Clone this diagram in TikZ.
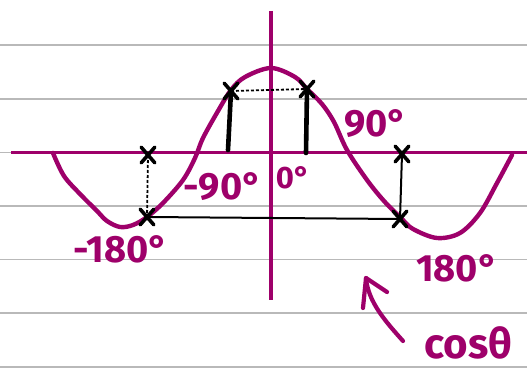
\documentclass[tikz,border=0pt]{standalone}
\usepackage{fontspec}
\setmainfont{Fira Sans}
\usetikzlibrary{shapes.misc}
\definecolor{pinkink}{RGB}{158,0,106}
\definecolor{ruleg}{RGB}{185,185,185}
\tikzset{
  ruleline/.style={draw=ruleg, line width=1.5pt},
  axisline/.style={draw=pinkink, line width=3.6pt},
  curveline/.style={draw=pinkink, line width=4.4pt, line cap=round, line join=round},
  xmark/.style={draw=black, cross out, minimum width=10pt, minimum height=12pt, inner sep=0pt, line width=3.6pt, line cap=round},
  thickbar/.style={draw=black, line width=4.6pt, line cap=round},
  dashline/.style={draw=black, line width=1.8pt, dash pattern=on 3pt off 2pt},
  thinline/.style={draw=black, line width=2pt},
  lbl/.style={text=pinkink, inner sep=0pt, font=\fontsize{38}{38}\selectfont\bfseries},
}
\begin{document}
\begin{tikzpicture}[x=1pt,y=-1pt]
\useasboundingbox (0,0) rectangle (527,369);
\fill[white] (0,0) rectangle (527,369);
% ruled paper
\foreach \yy in {45,99,152.5,206,259.5,313,367}
  \draw[ruleline] (0,\yy) -- (527,\yy);
% axes
\coordinate (axL) at (11,152.5);
\coordinate (axR) at (527,152.5);
\coordinate (axT) at (271,11);
\coordinate (axB) at (271,300);
\draw[axisline] (axL) -- (axR);
\draw[axisline] (axT) -- (axB);
% cosine curve
\draw[curveline] plot[smooth, tension=0.55] coordinates {
 (53,153) (64,176) (81,195) (97,211) (107,221) (120,227) (133,225) (147,217)
 (163,203) (183,180) (195,158) (203,138) (218,111) (231,90) (245,77) (271,68)
 (295,77) (307,89) (322,104) (334,122) (347,150) (367,180) (384,201) (401,218) (413,229)
 (437,238) (460,233) (480,213) (497,183) (512,155)};
% points
\node[xmark] (m1) at (148,155) {};
\node[xmark] (m2) at (147,217) {};
\node[xmark] (m3) at (231,91) {};
\node[xmark] (m4) at (307,89) {};
\node[xmark] (m5) at (400,219) {};
\node[xmark] (m6) at (402,154) {};
\coordinate (b1) at (228,150);
\coordinate (b2) at (306,153);
% connectors
\draw[dashline] (m1.center) -- (m2.center);
\draw[dashline] (m3.center) -- (m4.center);
\draw[thinline] (m2.center) -- (m5.center);
\draw[thinline] (m6.center) -- (m5.center);
\draw[thickbar] (b1) -- (m3.center);
\draw[thickbar] (b2) -- (m4.center);
% labels
\node[lbl] (l90) at (376,124) {90°};
\node[lbl] (lm90) at (223,187) {-90°};
\node[lbl, font=\fontsize{31}{31}\selectfont\bfseries] (l0) at (293,178) {0°};
\node[lbl] (lm180) at (121,249) {-180°};
\node[lbl] (l180) at (457,268) {180°};
\node[lbl, font=\fontsize{42}{42}\selectfont\bfseries, anchor=base west] (lcos) at (424,358) {cosθ};
% arrow pointing at curve
\coordinate (tip) at (366,278);
\coordinate (barbA) at (363,308);
\coordinate (barbB) at (387,292);
\coordinate (tail) at (403,341);
\draw[curveline, line width=4.2pt] (tail) .. controls (386,322) and (368,302) .. (tip);
\draw[curveline, line width=4.2pt] (barbA) -- (tip) -- (barbB);
\end{tikzpicture}
\end{document}
